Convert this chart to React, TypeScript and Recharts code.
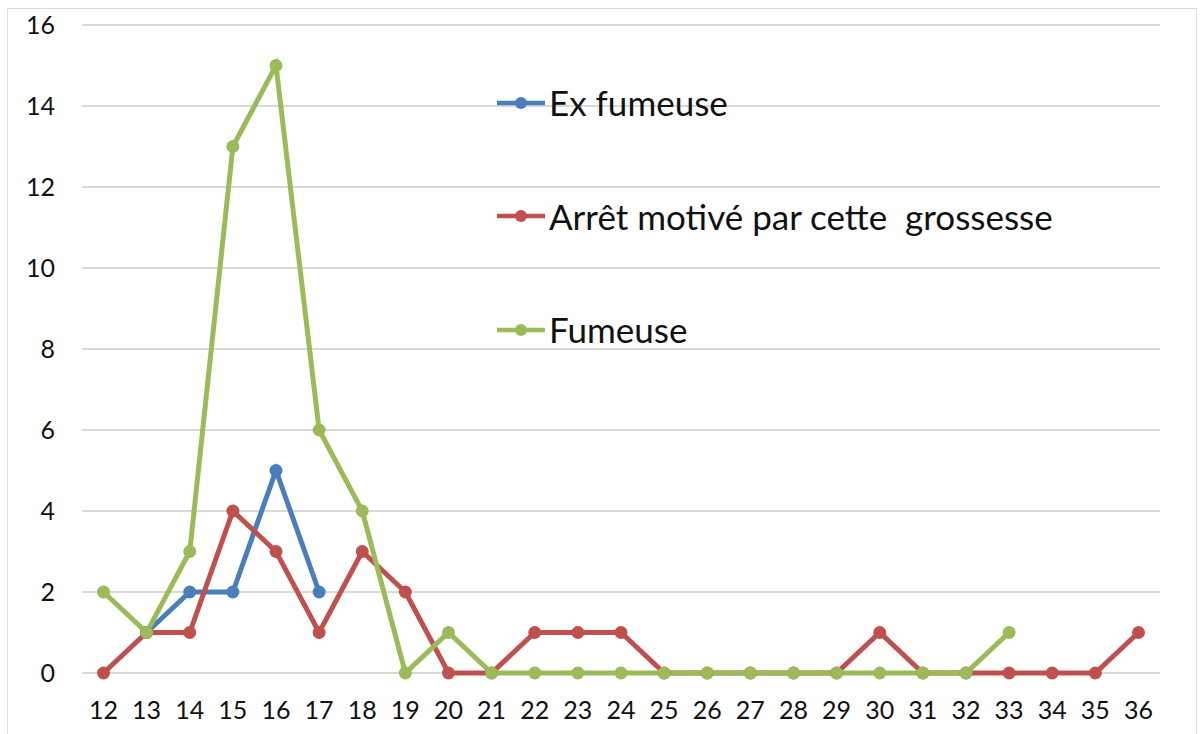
import { LineChart, Line, XAxis, YAxis, CartesianGrid } from 'recharts';

const weeks = [12, 13, 14, 15, 16, 17, 18, 19, 20, 21, 22, 23, 24, 25, 26, 27, 28, 29, 30, 31, 32, 33, 34, 35, 36];

const exFumeuse = [null, 1, 2, 2, 5, 2, null, null, null, null, null, null, null, null, null, null, null, null, null, null, null, null, null, null, null];
const arret = [0, 1, 1, 4, 3, 1, 3, 2, 0, 0, 1, 1, 1, 0, 0, 0, 0, 0, 1, 0, 0, 0, 0, 0, 1];
const fumeuse = [2, 1, 3, 13, 15, 6, 4, 0, 1, 0, 0, 0, 0, 0, 0, 0, 0, 0, 0, 0, 0, 1, null, null, null];

const yTicks = [0, 2, 4, 6, 8, 10, 12, 14, 16];

const series = [
  { key: 'exFumeuse', name: 'Ex fumeuse', color: '#4a7ebb' },
  { key: 'arret', name: 'Arrêt motivé par cette  grossesse', color: '#c0504d' },
  { key: 'fumeuse', name: 'Fumeuse', color: '#9bbb59' },
];

const data = weeks.map((w, i) => ({
  week: w,
  exFumeuse: exFumeuse[i],
  arret: arret[i],
  fumeuse: fumeuse[i],
}));

const FONT = 'Lato, "Open Sans", sans-serif';

// legend drawn inside the plot area, like the original
const ChartLegend = () => (
  <div style={{ position: 'absolute', left: 497, top: 46, fontFamily: FONT }}>
    {series.map((s) => (
      <div key={s.key} style={{ display: 'flex', alignItems: 'center', height: 113.5 }}>
        <svg width={51} height={14} style={{ marginRight: 1 }}>
          <line x1={0} y1={7} x2={48} y2={7} stroke={s.color} strokeWidth={4.5} />
          <circle cx={24} cy={7} r={6} fill={s.color} />
        </svg>
        <span style={{ fontSize: 35, color: '#111', whiteSpace: 'pre', lineHeight: 1 }}>{s.name}</span>
      </div>
    ))}
  </div>
);

const App = () => {
  return (
    <div style={{ position: 'absolute', left: 0, top: 0, width: 1201, height: 734, background: '#fff', overflow: 'hidden' }}>
      <div style={{ position: 'absolute', left: 7, top: 8, width: 1188, height: 740, border: '1px solid #dcdcdc' }} />
      <LineChart
        width={1201}
        height={734}
        data={data}
        margin={{ top: 25, right: 41, bottom: 0, left: 0 }}
        style={{ position: 'absolute', left: 0, top: 0 }}
      >
        <CartesianGrid vertical={false} stroke="#d9d9d9" strokeWidth={2} />
        <XAxis
          dataKey="week"
          type="category"
          padding={{ left: 21.5, right: 21.5 }}
          height={61}
          axisLine={false}
          tickLine={false}
          tickSize={0}
          tickMargin={28}
          interval={0}
          tick={{ fill: '#111', fontSize: 25, fontFamily: FONT }}
        />
        <YAxis
          domain={[0, 16]}
          ticks={yTicks}
          width={82}
          axisLine={false}
          tickLine={false}
          tickSize={0}
          tickMargin={27}
          tick={{ fill: '#111', fontSize: 25, fontFamily: FONT }}
        />
        {series.map((s) => (
          <Line
            key={s.key}
            dataKey={s.key}
            name={s.name}
            stroke={s.color}
            strokeWidth={5}
            dot={{ r: 6.5, fill: s.color, stroke: s.color, strokeWidth: 0 }}
            activeDot={false}
            isAnimationActive={false}
            connectNulls={false}
          />
        ))}
      </LineChart>
      <ChartLegend />
    </div>
  );
};

export default App;
